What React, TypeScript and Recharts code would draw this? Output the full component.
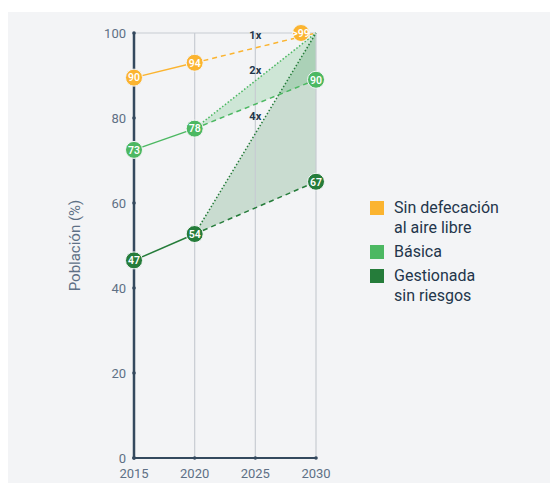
import {
  Area,
  ComposedChart,
  Line,
  ReferenceDot,
  ReferenceLine,
  XAxis,
  YAxis,
} from "recharts";

// Saneamiento: cobertura observada 2015–2020 y proyección a 2030.
const YEARS = [2015, 2020, 2030];

const ODF = [89.5, 93, null];
const ODF_PROJ = [null, 93, 100];
const ODF_LABELS = ["90", "94", ">99"];

const BASIC = [72.5, 77.5, null];
const BASIC_PROJ = [null, 77.5, 89];
const BASIC_TARGET = [null, 77.5, 100];
const BASIC_LABELS = ["73", "78", "90"];

const SAFE = [46.5, 52.7, null];
const SAFE_PROJ = [null, 52.7, 65];
const SAFE_TARGET = [null, 52.7, 100];
const SAFE_LABELS = ["47", "54", "67"];

// Ritmo necesario para alcanzar la meta, anotado sobre 2025.
const RATE_LABELS = ["1x", "2x", "4x"];
const RATE_ANCHORS = [99.5, 91.4, 80.5];

const X_TICKS = [2015, 2020, 2025, 2030];
const Y_TICKS = [0, 20, 40, 60, 80, 100];

const LEGEND = [
  { label: ["Sin defecación", "al aire libre"], color: "#FBB430" },
  { label: ["Básica"], color: "#4CB862" },
  { label: ["Gestionada", "sin riesgos"], color: "#257C3A" },
];

const ORANGE = "#FBB430";
const GREEN = "#4CB862";
const DARK_GREEN = "#257C3A";
const AXIS = "#34495E";
const GRID = "#C8CCD2";
const TICK_TEXT = "#5E7085";
const NAVY = "#23364B";
const BG = "#F3F4F6";

const data = YEARS.map((year, i) => ({
  year,
  odf: ODF[i],
  odfProj: ODF_PROJ[i],
  basic: BASIC[i],
  basicProj: BASIC_PROJ[i],
  basicTarget: BASIC_TARGET[i],
  basicBand:
    BASIC_PROJ[i] == null ? null : [BASIC_PROJ[i], BASIC_TARGET[i]],
  safe: SAFE[i],
  safeProj: SAFE_PROJ[i],
  safeTarget: SAFE_TARGET[i],
  safeBand: SAFE_PROJ[i] == null ? null : [SAFE_PROJ[i], SAFE_TARGET[i]],
}));

// Circle marker with the rounded value written inside it.
function labelDot(color: string, labels: string[], only?: number[], dx = 0) {
  return (props: any) => {
    const { cx, cy, index } = props;
    const k = `d-${color}-${index}`;
    if (cx == null || cy == null || (only && !only.includes(index)))
      return <g key={k} />;
    return (
      <g key={k}>
        <circle cx={cx + dx} cy={cy} r={8.5} fill={color} stroke={BG} strokeWidth={1} />
        <text
          x={cx + dx}
          y={cy}
          dy="0.36em"
          textAnchor="middle"
          fontSize={10.5}
          fontWeight={600}
          fill="#fff"
        >
          {labels[index]}
        </text>
      </g>
    );
  };
}

function YTick(props: any) {
  const { x, y, payload } = props;
  return (
    <g>
      <circle cx={x + 8} cy={y} r={1.8} fill={AXIS} />
      <text x={x} y={y} dy="0.36em" textAnchor="end" fontSize={13} fill={TICK_TEXT}>
        {payload.value}
      </text>
    </g>
  );
}

function XTick(props: any) {
  const { x, y, payload } = props;
  return (
    <g>
      <circle cx={x} cy={y - 8} r={1.8} fill={AXIS} />
      <text x={x} y={y} dy="0.9em" textAnchor="middle" fontSize={13} fill={TICK_TEXT}>
        {payload.value}
      </text>
    </g>
  );
}

function SideLegend() {
  return (
    <div
      style={{
        position: "absolute",
        left: 364,
        top: 186,
        fontSize: 16,
        color: NAVY,
        lineHeight: "20px",
      }}
    >
      {LEGEND.map((it) => (
        <div key={it.label[0]} style={{ display: "flex", marginBottom: 4 }}>
          <span
            style={{
              width: 14,
              height: 14,
              background: it.color,
              marginTop: 3,
              marginRight: 10,
              flexShrink: 0,
            }}
          />
          <span>
            {it.label.map((l) => (
              <div key={l}>{l}</div>
            ))}
          </span>
        </div>
      ))}
    </div>
  );
}

export default function App() {
  return (
    <div
      style={{
        position: "relative",
        width: 552,
        height: 471,
        marginLeft: -2,
        marginTop: 4,
        background: BG,
        fontFamily: "Roboto, sans-serif",
      }}
    >
      <ComposedChart
        width={552}
        height={471}
        data={data}
        margin={{ top: 21, right: 242, bottom: 0, left: 0 }}
      >
        <ReferenceLine y={100} stroke={GRID} strokeWidth={1.2} />
        {X_TICKS.slice(1).map((x) => (
          <ReferenceLine key={x} x={x} stroke={GRID} strokeWidth={1.2} />
        ))}
        <XAxis
          type="number"
          dataKey="year"
          domain={[2015, 2030]}
          ticks={X_TICKS}
          axisLine={{ stroke: AXIS, strokeWidth: 2 }}
          tickLine={false}
          tickSize={0}
          tickMargin={8}
          tick={<XTick />}
          height={25}
        />
        <YAxis
          type="number"
          domain={[0, 100]}
          ticks={Y_TICKS}
          axisLine={{ stroke: AXIS, strokeWidth: 2.5 }}
          tickLine={false}
          tickSize={0}
          tickMargin={8}
          tick={<YTick />}
          width={128}
          label={{
            value: "Población (%)",
            angle: -90,
            position: "insideLeft",
            offset: 69,
            style: { fontSize: 15, fill: TICK_TEXT, textAnchor: "middle" },
          }}
        />
        <Area
          dataKey="basicBand"
          type="linear"
          stroke="none"
          fill={GREEN}
          fillOpacity={0.22}
          isAnimationActive={false}
        />
        <Area
          dataKey="safeBand"
          type="linear"
          stroke="none"
          fill={DARK_GREEN}
          fillOpacity={0.2}
          isAnimationActive={false}
        />
        <Line
          dataKey="basicTarget"
          type="linear"
          stroke={GREEN}
          strokeWidth={1.5}
          strokeDasharray="1.5 2"
          dot={false}
          isAnimationActive={false}
        />
        <Line
          dataKey="safeTarget"
          type="linear"
          stroke={DARK_GREEN}
          strokeWidth={1.5}
          strokeDasharray="1.5 2"
          dot={false}
          isAnimationActive={false}
        />
        <Line
          dataKey="odfProj"
          type="linear"
          stroke={ORANGE}
          strokeWidth={1.5}
          strokeDasharray="5 4"
          dot={labelDot(ORANGE, ODF_LABELS, [2], -15)}
          isAnimationActive={false}
        />
        <Line
          dataKey="basicProj"
          type="linear"
          stroke={GREEN}
          strokeWidth={1.5}
          strokeDasharray="5 4"
          dot={labelDot(GREEN, BASIC_LABELS, [2])}
          isAnimationActive={false}
        />
        <Line
          dataKey="safeProj"
          type="linear"
          stroke={DARK_GREEN}
          strokeWidth={1.5}
          strokeDasharray="5 4"
          dot={labelDot(DARK_GREEN, SAFE_LABELS, [2])}
          isAnimationActive={false}
        />
        <Line
          dataKey="odf"
          type="linear"
          stroke={ORANGE}
          strokeWidth={1.5}
          dot={labelDot(ORANGE, ODF_LABELS)}
          isAnimationActive={false}
        />
        <Line
          dataKey="basic"
          type="linear"
          stroke={GREEN}
          strokeWidth={1.5}
          dot={labelDot(GREEN, BASIC_LABELS)}
          isAnimationActive={false}
        />
        <Line
          dataKey="safe"
          type="linear"
          stroke={DARK_GREEN}
          strokeWidth={1.5}
          dot={labelDot(DARK_GREEN, SAFE_LABELS)}
          isAnimationActive={false}
        />
        {RATE_LABELS.map((r, i) => (
          <ReferenceDot
            key={r}
            x={2025}
            y={RATE_ANCHORS[i]}
            r={0}
            shape={(p: any) => (
              <text
                x={p.cx}
                y={p.cy}
                dy="0.36em"
                textAnchor="middle"
                fontSize={11}
                fontWeight={700}
                fill={NAVY}
              >
                {r}
              </text>
            )}
          />
        ))}
      </ComposedChart>
      <SideLegend />
    </div>
  );
}
